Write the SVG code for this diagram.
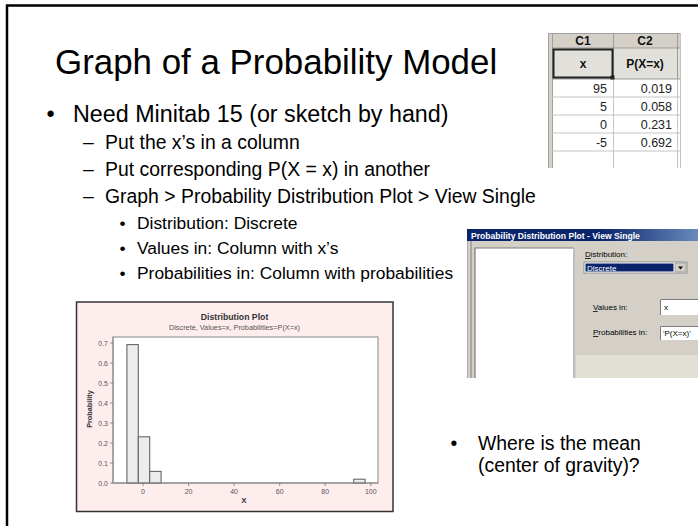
<svg xmlns="http://www.w3.org/2000/svg" width="698" height="526" viewBox="0 0 698 526">
<defs>
<style>
.t{font-family:"Liberation Sans",Arial,sans-serif;fill:#000}
.title{font-size:34.9px}
.l1{font-size:23.3px}
.l2{font-size:19.4px}
.l3{font-size:17.4px}
.cell{font-family:"Liberation Sans",Arial,sans-serif;font-size:12.5px;fill:#222;text-anchor:end}
.hdr{font-family:"Liberation Sans",Arial,sans-serif;font-size:12px;font-weight:bold;fill:#111;text-anchor:middle}
.grid{stroke:#c4c4c4;stroke-width:1}
.dlg{font-family:"Liberation Sans",Arial,sans-serif;font-size:8px;fill:#000}
.ax{font-family:"Liberation Sans",Arial,sans-serif;font-size:7px;fill:#555}
.bar{fill:#ececec;stroke:#666;stroke-width:1.1}
.tick{stroke:#777;stroke-width:0.8}
</style>
<linearGradient id="tb" gradientUnits="userSpaceOnUse" x1="600" y1="0" x2="760" y2="0">
<stop offset="0" stop-color="#0a246a"/><stop offset="1" stop-color="#a6caf0"/>
</linearGradient>
<clipPath id="dc"><rect x="467" y="229" width="231" height="149"/></clipPath>
</defs>
<rect width="698" height="526" fill="#fff"/>
<rect id="frame" x="7" y="5.5" width="800" height="600" fill="none" stroke="#000" stroke-width="2.5"/>

<g id="title">
<text class="t title" x="55" y="74">Graph of a Probability Model</text>
</g>

<g id="bullets">
<text class="t l1" x="46.4" y="122">•</text>
<text class="t l1" x="73" y="122">Need Minitab 15 (or sketch by hand)</text>
<text class="t l2" x="83" y="149">–</text>
<text class="t l2" x="105" y="149">Put the x’s in a column</text>
<text class="t l2" x="83" y="176">–</text>
<text class="t l2" x="105" y="176">Put corresponding P(X = x) in another</text>
<text class="t l2" x="83" y="203">–</text>
<text class="t l2" x="105" y="203">Graph &gt; Probability Distribution Plot &gt; View Single</text>
<text class="t l3" x="119.5" y="229">•</text>
<text class="t l3" x="137" y="229">Distribution: Discrete</text>
<text class="t l3" x="119.5" y="254">•</text>
<text class="t l3" x="137" y="254">Values in: Column with x’s</text>
<text class="t l3" x="119.5" y="279">•</text>
<text class="t l3" x="137" y="279">Probabilities in: Column with probabilities</text>
</g>

<g id="table">
<rect x="548" y="33" width="133" height="135" fill="#fff"/>
<rect x="552" y="33" width="128" height="15" fill="#d4d0c8"/>
<rect x="552" y="48" width="128" height="31" fill="#e2e0db"/>
<rect x="548" y="33" width="4" height="135" fill="#d4d0c8"/>
<line x1="548.5" y1="33" x2="548.5" y2="168" stroke="#a0a0a0"/>
<line x1="552.5" y1="33" x2="552.5" y2="168" stroke="#a0a0a0"/>
<line x1="548" y1="33.5" x2="681" y2="33.5" stroke="#a0a0a0"/>
<line x1="552" y1="48" x2="681" y2="48" stroke="#9a9a9a"/>
<line x1="552" y1="79" x2="681" y2="79" stroke="#9a9a9a"/>
<line class="grid" x1="552" y1="97" x2="681" y2="97"/>
<line class="grid" x1="552" y1="115" x2="681" y2="115"/>
<line class="grid" x1="552" y1="133" x2="681" y2="133"/>
<line class="grid" x1="552" y1="151" x2="681" y2="151"/>
<line x1="613.5" y1="33" x2="613.5" y2="79" stroke="#9a9a9a"/>
<line class="grid" x1="613.5" y1="79" x2="613.5" y2="168"/>
<line x1="677.5" y1="33" x2="677.5" y2="79" stroke="#9a9a9a"/>
<line class="grid" x1="677.5" y1="79" x2="677.5" y2="168"/>
<line class="grid" x1="680.5" y1="33" x2="680.5" y2="168"/>
<text class="hdr" x="583" y="45">C1</text>
<text class="hdr" x="645" y="45">C2</text>
<rect x="553.5" y="49.5" width="59" height="28" fill="none" stroke="#222" stroke-width="2"/>
<rect x="610.5" y="75.5" width="4" height="4" fill="#222"/>
<text class="hdr" x="583" y="68">x</text>
<text class="hdr" x="645" y="68">P(X=x)</text>
<text class="cell" x="607" y="92.5">95</text>
<text class="cell" x="672" y="92.5">0.019</text>
<text class="cell" x="607" y="110.5">5</text>
<text class="cell" x="672" y="110.5">0.058</text>
<text class="cell" x="607" y="128.5">0</text>
<text class="cell" x="672" y="128.5">0.231</text>
<text class="cell" x="607" y="146.5">-5</text>
<text class="cell" x="672" y="146.5">0.692</text>
</g>

<g id="dialog" clip-path="url(#dc)">
<rect x="467" y="229" width="240" height="149" fill="#d4d0c8"/>
<rect x="467" y="229" width="240" height="12" fill="url(#tb)"/>
<text x="471" y="238.5" font-family="Liberation Sans, Arial, sans-serif" font-size="8.6" font-weight="bold" fill="#fff">Probability Distribution Plot - View Single</text>
<line x1="467.5" y1="241" x2="467.5" y2="378" stroke="#a8a8a8"/>
<line x1="471" y1="241" x2="471" y2="378" stroke="#9a9a9a" stroke-width="1.5"/>
<rect x="475" y="248" width="98" height="140" fill="#fff"/>
<path d="M475 388 V248 H573" fill="none" stroke="#7a7a7a" stroke-width="1.2"/>
<line x1="574" y1="248" x2="574" y2="378" stroke="#b8b8b8" stroke-width="1.5"/>
<rect x="576" y="355" width="130" height="25" fill="#e2e0d4"/>
<text class="dlg" x="585" y="257"><tspan text-decoration="underline">D</tspan>istribution:</text>
<rect x="584" y="262" width="103" height="11" fill="#fff" stroke="#808080" stroke-width="0.8"/>
<rect x="585.5" y="263.5" width="88" height="8" fill="#0a246a"/>
<text class="dlg" x="587" y="270.5" style="fill:#fff">Discrete</text>
<rect x="675" y="263" width="11" height="9" fill="#d4d0c8" stroke="#808080" stroke-width="0.6"/>
<path d="M678 266.5 h5 l-2.5 3 z" fill="#000"/>
<text class="dlg" x="593" y="310"><tspan text-decoration="underline">V</tspan>alues in:</text>
<rect x="660" y="299" width="50" height="16" fill="#fff"/>
<path d="M660.5 315 V299.5 H710" fill="none" stroke="#7a7a7a" stroke-width="1"/>
<text class="dlg" x="664" y="310" font-size="7">x</text>
<text class="dlg" x="593" y="335"><tspan text-decoration="underline">P</tspan>robabilities in:</text>
<rect x="660" y="326" width="50" height="14" fill="#fff"/>
<path d="M660.5 340 V326.5 H710" fill="none" stroke="#7a7a7a" stroke-width="1"/>
<text class="dlg" x="663" y="335.5" font-size="6.5">'P(X=x)'</text>
</g>

<g id="chart">
<rect x="76.5" y="302" width="316.5" height="209.5" fill="#fdeded" stroke="#333" stroke-width="1.5"/>
<text x="234.5" y="320" text-anchor="middle" font-family="Liberation Sans, Arial, sans-serif" font-size="8.7" font-weight="bold" fill="#333">Distribution Plot</text>
<text x="234.5" y="329.5" text-anchor="middle" font-family="Liberation Sans, Arial, sans-serif" font-size="7.3" fill="#555">Discrete, Values=x, Probabilities=P(X=x)</text>
<rect x="113" y="337" width="265" height="146" fill="#fff" stroke="#9a9a9a" stroke-width="1.2"/>
<g id="bars">
<rect class="bar" x="126.9" y="344.6" width="11.4" height="138.4"/>
<rect class="bar" x="138.3" y="436.8" width="11.4" height="46.2"/>
<rect class="bar" x="149.7" y="471.4" width="11.4" height="11.6"/>
<rect class="bar" x="353.7" y="479.2" width="11.4" height="3.8"/>
</g>
<line x1="113" y1="337" x2="113" y2="483" stroke="#888" stroke-width="1"/>
<line x1="113" y1="483" x2="378" y2="483" stroke="#888" stroke-width="1"/>
<g class="tick">
<line x1="110" y1="483" x2="113" y2="483"/><line x1="110" y1="463" x2="113" y2="463"/>
<line x1="110" y1="443" x2="113" y2="443"/><line x1="110" y1="423" x2="113" y2="423"/>
<line x1="110" y1="403" x2="113" y2="403"/><line x1="110" y1="383" x2="113" y2="383"/>
<line x1="110" y1="363" x2="113" y2="363"/><line x1="110" y1="343" x2="113" y2="343"/>
<line x1="143" y1="483" x2="143" y2="486"/><line x1="188.6" y1="483" x2="188.6" y2="486"/>
<line x1="234.1" y1="483" x2="234.1" y2="486"/><line x1="279.7" y1="483" x2="279.7" y2="486"/>
<line x1="325.2" y1="483" x2="325.2" y2="486"/><line x1="370.8" y1="483" x2="370.8" y2="486"/>
</g>
<g class="ax" text-anchor="end">
<text x="108" y="485.5">0.0</text><text x="108" y="465.5">0.1</text>
<text x="108" y="445.5">0.2</text><text x="108" y="425.5">0.3</text>
<text x="108" y="405.5">0.4</text><text x="108" y="385.5">0.5</text>
<text x="108" y="365.5">0.6</text><text x="108" y="345.5">0.7</text>
</g>
<g class="ax" text-anchor="middle">
<text x="143" y="494">0</text><text x="188.6" y="494">20</text>
<text x="234.1" y="494">40</text><text x="279.7" y="494">60</text>
<text x="325.2" y="494">80</text><text x="370.8" y="494">100</text>
</g>
<text transform="translate(92.3,409) rotate(-90)" text-anchor="middle" font-family="Liberation Sans, Arial, sans-serif" font-size="7.3" font-weight="bold" fill="#333">Probability</text>
<text x="244" y="502.5" text-anchor="middle" font-family="Liberation Sans, Arial, sans-serif" font-size="8" font-weight="bold" fill="#333">X</text>
</g>

<g id="note">
<text class="t l2" x="450.6" y="450">•</text>
<text class="t l2" x="478" y="450">Where is the mean</text>
<text class="t l2" x="478" y="472">(center of gravity)?</text>
</g>
</svg>
